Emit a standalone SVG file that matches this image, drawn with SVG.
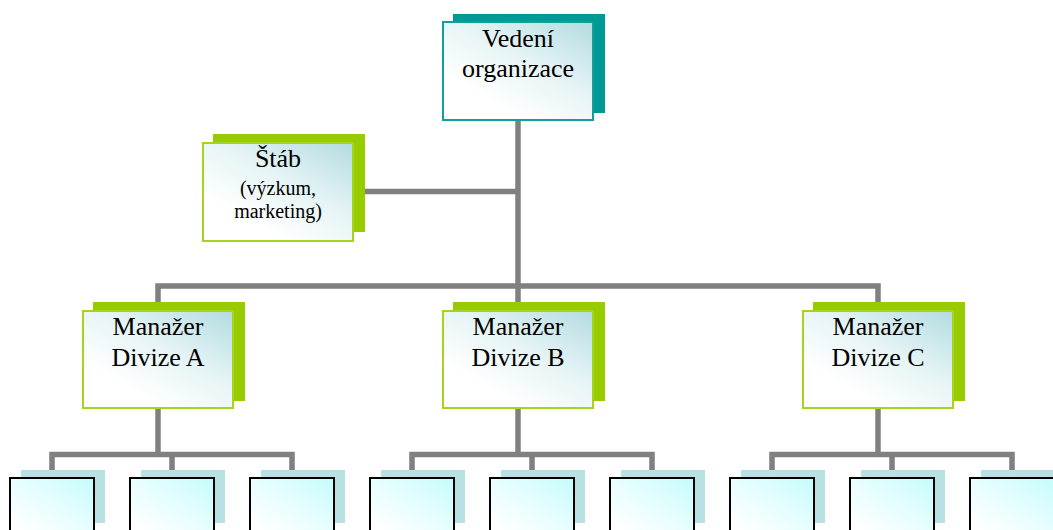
<svg xmlns="http://www.w3.org/2000/svg" width="1053" height="530" viewBox="0 0 1053 530">
  <defs>
    <linearGradient id="boxFill" x1="1" y1="0" x2="0.3" y2="0.8">
      <stop offset="0" stop-color="#b2dbe0"/>
      <stop offset="0.55" stop-color="#e6f4f5"/>
      <stop offset="1" stop-color="#ffffff"/>
    </linearGradient>
    <linearGradient id="leafFill" x1="1" y1="0" x2="0.2" y2="0.9">
      <stop offset="0" stop-color="#c6fbfc"/>
      <stop offset="0.6" stop-color="#eafefe"/>
      <stop offset="1" stop-color="#ffffff"/>
    </linearGradient>
    <style>
      .line { stroke: #808080; stroke-width: 5.5; fill: none; }
      .shadow-teal { fill: #009a96; }
      .shadow-green { fill: #99cc00; }
      .shadow-leaf { fill: #b9e0e3; }
      .front-teal { fill: url(#boxFill); stroke: #129e9a; stroke-width: 2; }
      .front-green { fill: url(#boxFill); stroke: #a6d41a; stroke-width: 2; }
      .front-leaf { fill: url(#leafFill); stroke: #000; stroke-width: 2; }
      .label { font-family: "Liberation Serif", "Times New Roman", serif; font-size: 26px; fill: #000; text-anchor: middle; }
      .small { font-size: 20px; }
    </style>
  </defs>

  <rect width="1053" height="530" fill="#fff"/>

  <g id="connectors">
    <!-- trunk from the head office down to the division bus -->
    <path class="line" d="M518 121 V302"/>
    <!-- staff branch -->
    <path class="line" d="M365 191.5 H518"/>
    <!-- division bus -->
    <path class="line" d="M158 302 V286 H878 V302"/>
    <!-- division A units -->
    <path class="line" d="M158 409 V456"/>
    <path class="line" d="M52 470 V454.5 H292 V470 M172 454.5 V470"/>
    <!-- division B units -->
    <path class="line" d="M518 409 V456"/>
    <path class="line" d="M412 470 V454.5 H652 V470 M532 454.5 V470"/>
    <!-- division C units -->
    <path class="line" d="M878 409 V456"/>
    <path class="line" d="M772 470 V454.5 H1012 V470 M892 454.5 V470"/>
  </g>

  <g id="vedeni">
    <rect class="shadow-teal" x="453" y="14" width="152" height="99"/>
    <rect class="front-teal" x="443" y="22" width="150" height="98"/>
    <text class="label" x="518" y="47">Vedení</text>
    <text class="label" x="518" y="77">organizace</text>
  </g>

  <g id="stab">
    <rect class="shadow-green" x="213" y="134" width="152" height="98"/>
    <rect class="front-green" x="203" y="143" width="150" height="98"/>
    <text class="label" x="278" y="167">Štáb</text>
    <text class="label small" x="278" y="195">(výzkum,</text>
    <text class="label small" x="278" y="218">marketing)</text>
  </g>

  <g id="divize-a">
    <rect class="shadow-green" x="93" y="302" width="152" height="99"/>
    <rect class="front-green" x="83" y="311" width="150" height="97"/>
    <text class="label" x="158" y="335">Manažer</text>
    <text class="label" x="158" y="366">Divize A</text>
  </g>

  <g id="divize-b">
    <rect class="shadow-green" x="453" y="302" width="152" height="99"/>
    <rect class="front-green" x="443" y="311" width="150" height="97"/>
    <text class="label" x="518" y="335">Manažer</text>
    <text class="label" x="518" y="366">Divize B</text>
  </g>

  <g id="divize-c">
    <rect class="shadow-green" x="813" y="302" width="152" height="99"/>
    <rect class="front-green" x="803" y="311" width="150" height="97"/>
    <text class="label" x="878" y="335">Manažer</text>
    <text class="label" x="878" y="366">Divize C</text>
  </g>

  <!-- unit boxes under each division -->
  <g id="unit-a1"><rect class="shadow-leaf" x="21" y="470" width="84" height="53"/><rect class="front-leaf" x="10" y="478" width="84" height="62"/></g>
  <g id="unit-a2"><rect class="shadow-leaf" x="141" y="470" width="84" height="53"/><rect class="front-leaf" x="130" y="478" width="84" height="62"/></g>
  <g id="unit-a3"><rect class="shadow-leaf" x="261" y="470" width="84" height="53"/><rect class="front-leaf" x="250" y="478" width="84" height="62"/></g>
  <g id="unit-b1"><rect class="shadow-leaf" x="381" y="470" width="84" height="53"/><rect class="front-leaf" x="370" y="478" width="84" height="62"/></g>
  <g id="unit-b2"><rect class="shadow-leaf" x="501" y="470" width="84" height="53"/><rect class="front-leaf" x="490" y="478" width="84" height="62"/></g>
  <g id="unit-b3"><rect class="shadow-leaf" x="621" y="470" width="84" height="53"/><rect class="front-leaf" x="610" y="478" width="84" height="62"/></g>
  <g id="unit-c1"><rect class="shadow-leaf" x="741" y="470" width="84" height="53"/><rect class="front-leaf" x="730" y="478" width="84" height="62"/></g>
  <g id="unit-c2"><rect class="shadow-leaf" x="861" y="470" width="84" height="53"/><rect class="front-leaf" x="850" y="478" width="84" height="62"/></g>
  <g id="unit-c3"><rect class="shadow-leaf" x="981" y="470" width="84" height="53"/><rect class="front-leaf" x="970" y="478" width="84" height="62"/></g>
</svg>
